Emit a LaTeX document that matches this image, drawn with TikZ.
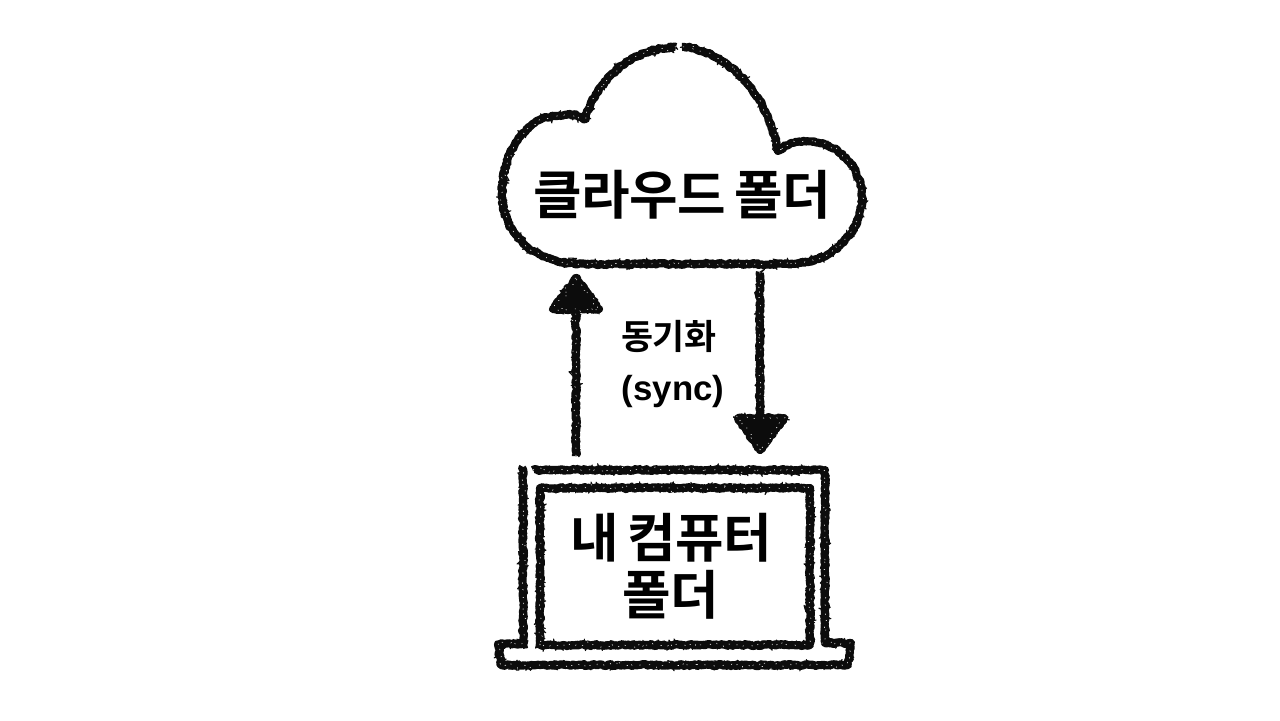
\documentclass[tikz,border=0pt]{standalone}
\usepackage{fontspec}
\setmainfont{Noto Sans CJK KR}[BoldFont={* Bold}, LetterSpace=-1.2, WordSpace=0.75]
\newfontfamily\latinfont{Liberation Sans}[BoldFont={* Bold}]
\usepackage{xcolor}
\definecolor{chalk-main}{HTML}{0C0C0C}
\usetikzlibrary{decorations.pathmorphing}
\pgfmathsetseed{42}
\tikzset{
    chalk/.style={draw=chalk-main, line width=2.3pt, line join=round, line cap=butt, decorate,
        decoration={random steps, segment length=0.5pt, amplitude=0.3pt},
        preaction={draw=chalk-main, line width=0.3pt, line join=round, line cap=round, decorate,
            decoration={random steps, segment length=0.28pt, amplitude=1.45pt}},
        postaction={draw=white, line width=0.15pt, dash pattern=on 0.35pt off 2.6pt, decorate,
            decoration={random steps, segment length=0.5pt, amplitude=1.1pt}}},
    chalkhead/.style={chalk, fill=chalk-main},
    titlelabel/.style={font=\bfseries\fontsize{15pt}{16.2pt}\selectfont, text=black, inner sep=0pt, align=center},
    synclabel/.style={font=\bfseries\fontsize{9.9pt}{14.4pt}\selectfont, text=black, inner sep=0pt, align=center}
}
\begin{document}
\begin{tikzpicture}[x=0.01cm, y=-0.01cm]

    % Background
    \fill[white] (0, 0) rectangle (1280, 720);
    \useasboundingbox (0, 0) rectangle (1280, 720);

    % Cloud
    \path[chalk] (676, 47) .. controls (632, 48) and (598, 78) .. (585, 119)
        .. controls (575, 113) and (566, 115) .. (555, 116)
        .. controls (525, 119) and (502, 152) .. (502, 195)
        .. controls (503, 235) and (535, 263) .. (578, 264)
        -- (790, 264)
        .. controls (830, 263) and (862, 235) .. (862, 197)
        .. controls (861, 165) and (836, 142) .. (808, 141)
        .. controls (796, 141) and (786, 144) .. (778, 151)
        .. controls (770, 100) and (730, 50) .. (682, 47);
    \node[titlelabel] (cloudlabel) at (682, 195) {클라우드 폴더};

    % Arrows
    \coordinate (uptail) at (576, 456);
    \coordinate (uptip) at (576, 278);
    \coordinate (downtail) at (760, 272);
    \coordinate (downtip) at (760, 450);
    \path[chalk] (uptail) -- (uptip);
    \path[chalkhead] (uptip) -- (553, 309) -- (599, 309) -- cycle;
    \path[chalk] (downtail) -- (downtip);
    \path[chalkhead] (downtip) -- (738, 418) -- (784, 418) -- cycle;
    \node[synclabel] (synclabel) at (673, 364) {동기화\hspace*{2.4pt}\\{\latinfont (sync)}};

    % Laptop
    \path[chalk] (523, 644) -- (523, 467);
    \path[chalk] (533, 470) -- (825, 470) -- (825, 643) -- (851, 643) -- (848, 665)
        -- (501, 665) -- (498, 644) -- (527, 644);
    \path[chalk] (540, 645) -- (540, 488) -- (810, 488) -- (810, 645) -- cycle;
    \node[titlelabel] (laptoplabel) at (671, 566) {내 컴퓨터\\폴더};

\end{tikzpicture}
\end{document}
